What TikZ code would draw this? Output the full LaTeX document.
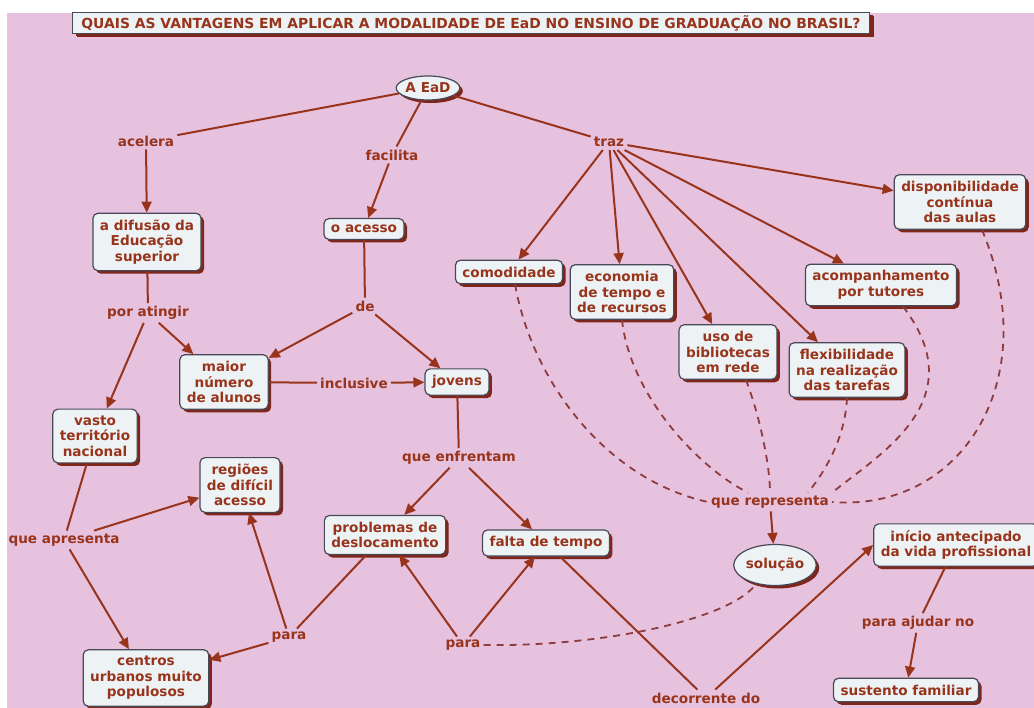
\documentclass[tikz,border=0pt]{standalone}
\usepackage{fontspec}
\setmainfont{DejaVu Sans}
\usetikzlibrary{arrows.meta,shapes.geometric,shadows}

\definecolor{rosa}{RGB}{231,194,222}
\definecolor{tinta}{RGB}{152,52,28}
\definecolor{tracejado}{RGB}{140,60,62}
\definecolor{caixa}{RGB}{237,243,245}
\definecolor{borda}{RGB}{72,72,88}
\definecolor{sombra}{RGB}{125,38,25}

\tikzset{
  cbox/.style={draw=borda, line width=1.2pt, fill=caixa, rounded corners=5pt,
    align=center, inner xsep=7pt, inner ysep=6.5pt,
    drop shadow={shadow xshift=3pt, shadow yshift=-3pt, fill=sombra, opacity=1}},
  oval/.style={cbox, ellipse, inner sep=0pt},
  lbl/.style={inner sep=3pt},
  seta/.style={draw=tinta, line width=2pt, -{Triangle[length=11pt,width=10pt]}},
  liga/.style={draw=tinta, line width=2pt},
  tracej/.style={draw=tracejado, line width=1.8pt, dash pattern=on 7pt off 6pt},
}

\begin{document}
\begin{tikzpicture}[x=1pt, y=-1pt, text=tinta,
    font=\fontsize{13.6}{15.5}\selectfont\bfseries]
  \fill[white] (0,0) rectangle (1034,708);
  \useasboundingbox (0,0) rectangle (1034,708);
  \fill[rosa] (7,13) rectangle (1034,708);

  % titulo
  \node[cbox, sharp corners, inner sep=0pt, minimum width=797pt, minimum height=21pt,
    font=\fontsize{13.9}{15.5}\selectfont\bfseries,
    drop shadow={shadow xshift=4pt, shadow yshift=-4pt, fill=sombra, opacity=1}]
    (titulo) at (471,23) {QUAIS AS VANTAGENS EM APLICAR A MODALIDADE DE EaD NO ENSINO DE GRADUAÇÃO NO BRASIL?};

  % conceitos
  \node[oval, minimum width=62pt, minimum height=24pt] (ead) at (428,88) {A EaD};
  \node[cbox] (difusao) at (147,242) {a difusão da\\Educação\\superior};
  \node[cbox] (acesso) at (364,229) {o acesso};
  \node[cbox] (maior) at (224,382) {maior\\número\\de alunos};
  \node[cbox] (jovens) at (457,382) {jovens};
  \node[cbox] (vasto) at (95,436) {vasto\\território\\nacional};
  \node[cbox] (comodidade) at (509,272) {comodidade};
  \node[cbox] (economia) at (622,292) {economia\\de tempo e\\de recursos};
  \node[cbox] (bibliotecas) at (728,352) {uso de\\bibliotecas\\em rede};
  \node[cbox] (flexibilidade) at (847,370) {flexibilidade\\na realização\\das tarefas};
  \node[cbox] (acompanhamento) at (881,285) {acompanhamento\\por tutores};
  \node[cbox] (disponibilidade) at (960,202) {disponibilidade\\contínua\\das aulas};
  \node[cbox] (regioes) at (240,485) {regiões\\de difícil\\acesso};
  \node[cbox] (problemas) at (385,535) {problemas de\\deslocamento};
  \node[cbox] (falta) at (546,543) {falta de tempo};
  \node[oval, minimum width=81pt, minimum height=41pt] (solucao) at (775,565) {solução};
  \node[cbox] (inicio) at (956,545) {início antecipado\\da vida profissional};
  \node[cbox] (centros) at (146,678) {centros\\urbanos muito\\populosos};
  \node[cbox] (sustento) at (906,690) {sustento familiar};

  % frases de ligacao
  \node[lbl] (acelera) at (146,141) {acelera};
  \node[lbl] (facilita) at (392,155) {facilita};
  \node[lbl] (traz) at (609,142) {traz};
  \node[lbl] (poratingir) at (148,313) {por atingir};
  \node[lbl] (de) at (365,306) {de};
  \node[lbl] (inclusive) at (354,383) {inclusive};
  \node[lbl] (enfrentam) at (459,458) {que enfrentam};
  \node[lbl] (apresenta) at (64,540) {que apresenta};
  \node[lbl] (representa) at (770,502) {que representa};
  \node[lbl] (paraA) at (289,637) {para};
  \node[lbl] (paraB) at (463,645) {para};
  \node[lbl] (ajudar) at (918,623) {para ajudar no};
  \node[lbl] (decorrente) at (706,698) {decorrente do};

  % ligacoes
  \draw[liga] (ead) -- (acelera);
  \draw[seta] (acelera) -- (difusao);
  \draw[liga] (ead) -- (facilita);
  \draw[seta] (facilita) -- (acesso);
  \draw[liga] (ead) -- (traz);
  \draw[seta] (traz) -- (comodidade);
  \draw[seta] (traz) -- (economia);
  \draw[seta] (traz) -- (bibliotecas);
  \draw[seta] (traz) -- (flexibilidade);
  \draw[seta] (traz) -- (acompanhamento.150);
  \draw[seta] (traz) -- (disponibilidade);
  \draw[liga] (difusao) -- (poratingir);
  \draw[seta] (poratingir) -- (maior);
  \draw[seta] (poratingir) -- (vasto);
  \draw[liga] (acesso) -- (de);
  \draw[seta] (de) -- (maior);
  \draw[seta] (de) -- (jovens);
  \draw[liga] (maior) -- (inclusive);
  \draw[seta] (inclusive) -- (jovens);
  \draw[liga] (jovens) -- (enfrentam);
  \draw[seta] (enfrentam) -- (problemas);
  \draw[seta] (enfrentam) -- (falta);
  \draw[liga] (vasto) -- (apresenta);
  \draw[seta] (apresenta) -- (regioes);
  \draw[seta] (apresenta) -- (centros);
  \draw[liga] (problemas) -- (paraA);
  \draw[seta] (paraA) -- (regioes);
  \draw[seta] (paraA) -- (centros);
  \draw[seta] (paraB) -- (problemas);
  \draw[seta] (paraB) -- (falta);
  \draw[liga] (falta) -- (decorrente);
  \draw[seta] (decorrente) -- (inicio.west);
  \draw[liga] (inicio) -- (ajudar);
  \draw[seta] (ajudar) -- (sustento);
  \draw[seta] (representa) -- (solucao);

  % tracejadas
  \draw[tracej] ([xshift=6pt]comodidade.south) .. controls +(18,100) and +(-100,-22) .. (representa.west);
  \draw[tracej] (economia.south) .. controls +(8,75) and +(-50,-25) .. ([xshift=-22pt]representa.north);
  \draw[tracej] ([xshift=18pt]bibliotecas.south) .. controls +(15,40) and +(0,-25) .. (representa.north);
  \draw[tracej] (flexibilidade.south) .. controls +(-2,45) and +(12,-15) .. ([xshift=38pt]representa.north);
  \draw[tracej] ([xshift=22pt]acompanhamento.south) .. controls +(71,93) and +(50,-40) .. (representa.north east);
  \draw[tracej] ([xshift=22pt]disponibilidade.south) .. controls +(63,150) and +(130,10) .. (representa.east);
  \draw[tracej] (paraB.east) .. controls +(120,2) and +(-25,35) .. (solucao.225);
\end{tikzpicture}
\end{document}
